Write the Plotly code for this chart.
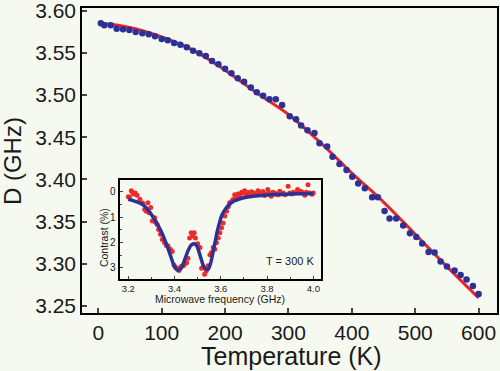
import plotly.graph_objects as go

# ---- main data: zero-field splitting D vs temperature ----
temp_K = [4, 9.5, 19.6, 29, 39, 49, 59, 69.5, 79.6, 89.5, 100, 109.6, 119.5, 129.5,
          139.6, 149.5, 159.5, 169.6, 179.5, 189.5, 200, 210, 220, 230, 240.6, 250,
          260, 270, 280, 290, 302, 312, 320, 330, 341, 349, 361, 369.5, 380.5, 391.6,
          400.6, 410, 420.5, 432, 441, 451.6, 459.5, 470, 481, 491.7, 501.7, 511, 521,
          530.5, 540, 550, 562, 571.6, 581, 591, 600]
D_GHz = [3.5851, 3.5827, 3.5827, 3.5787, 3.5779, 3.5771, 3.5748, 3.5732, 3.5720, 3.5697,
         3.5665, 3.5649, 3.5617, 3.5597, 3.5566, 3.5526, 3.5495, 3.5463, 3.5404, 3.5365,
         3.5313, 3.5258, 3.5199, 3.5159, 3.5090, 3.5033, 3.4993, 3.4950, 3.4950, 3.4883,
         3.4749, 3.4713, 3.4638, 3.4583, 3.4551, 3.4429, 3.4389, 3.4270, 3.4184, 3.4113,
         3.4033, 3.3953, 3.3896, 3.3789, 3.3789, 3.3627, 3.3536, 3.3536, 3.3453, 3.3363,
         3.3319, 3.3240, 3.3141, 3.3133, 3.3026, 3.2967, 3.2920, 3.2868, 3.2813, 3.2738,
         3.2643]

fit_T = [6, 50, 100, 150, 200, 250, 300, 350, 400, 450, 500, 550, 600]
fit_D = [3.5850, 3.5800, 3.5688, 3.5530, 3.5295, 3.5025, 3.4770, 3.4440, 3.4075,
         3.3732, 3.3350, 3.2967, 3.2596]

# ---- inset data: ODMR spectrum at 300 K ----
mw_freq = [3.200, 3.205, 3.213, 3.218, 3.222, 3.230, 3.238, 3.250, 3.262, 3.271, 3.278,
           3.285, 3.290, 3.297, 3.304, 3.314, 3.318, 3.325, 3.331, 3.339, 3.347, 3.357,
           3.365, 3.372, 3.382, 3.390, 3.398, 3.405, 3.412, 3.419, 3.425, 3.431, 3.438,
           3.444, 3.452, 3.458, 3.465, 3.472, 3.479, 3.485, 3.490, 3.500, 3.510, 3.517,
           3.523, 3.530, 3.537, 3.545, 3.553, 3.560, 3.567, 3.574, 3.581, 3.589, 3.596,
           3.603, 3.610, 3.617, 3.625, 3.632, 3.638, 3.645, 3.653, 3.660, 3.667, 3.674,
           3.682, 3.690, 3.696, 3.703, 3.710, 3.718, 3.725, 3.733, 3.744, 3.752, 3.761,
           3.767, 3.775, 3.781, 3.789, 3.795, 3.803, 3.810, 3.818, 3.825, 3.833, 3.840,
           3.847, 3.855, 3.862, 3.870, 3.878, 3.891, 3.898, 3.906, 3.913, 3.920, 3.932,
           3.942, 3.949, 3.956, 3.963, 3.970, 3.977, 3.984, 3.995, 4.000]
contrast = [0.20, 0.22, -0.04, 0.02, 0.09, 0.05, 0.14, 0.30, 0.45, 0.70, 0.77,
            0.44, 0.83, 0.62, 1.16, 1.03, 1.20, 1.29, 1.49, 1.68, 1.88, 2.01,
            2.12, 2.14, 2.27, 2.36, 2.90, 2.99, 3.05, 3.10, 3.00, 2.93, 2.92,
            2.85, 2.80, 2.62, 1.82, 1.62, 1.75, 1.62, 1.82, 2.05, 2.20, 3.02,
            2.99, 3.25, 3.12, 2.92, 2.48, 2.40, 2.20, 2.27, 2.01, 1.82, 1.62,
            1.42, 1.23, 0.96, 0.77, 0.59, 0.44, 0.40, 0.31, 0.12, 0.22, 0.09,
            0.15, 0.02, 0.05, -0.04, 0.10, 0.03, 0.09, 0.00, 0.05, 0.12, -0.04,
            0.09, 0.05, -0.01, 0.15, 0.09, -0.08, 0.05, 0.18, 0.02, 0.05, 0.10,
            0.12, -0.02, 0.09, 0.05, 0.12, -0.21, 0.05, 0.09, 0.02, 0.05, -0.08,
            -0.02, 0.00, 0.05, 0.14, 0.02, -0.27, 0.05, 0.10, 0.05]

odmr_fit_f = [3.200, 3.230, 3.260, 3.280, 3.300, 3.320, 3.340, 3.360, 3.380, 3.395,
              3.405, 3.415, 3.425, 3.435, 3.445, 3.455, 3.465, 3.475, 3.485, 3.495,
              3.505, 3.515, 3.525, 3.535, 3.545, 3.555, 3.565, 3.575, 3.585, 3.595,
              3.605, 3.620, 3.640, 3.660, 3.680, 3.710, 3.750, 3.800, 3.850, 3.900,
              3.950, 4.000]
odmr_fit_c = [0.30, 0.38, 0.50, 0.66, 0.90, 1.20, 1.52, 1.95, 2.45, 2.85,
              3.02, 3.10, 3.05, 2.90, 2.65, 2.40, 2.20, 2.08, 2.05, 2.12,
              2.35, 2.65, 2.92, 3.05, 3.06, 2.85, 2.45, 2.00, 1.55, 1.20,
              0.92, 0.68, 0.48, 0.36, 0.29, 0.22, 0.17, 0.13, 0.11, 0.09,
              0.08, 0.07]

main_ticks = [3.25, 3.30, 3.35, 3.40, 3.45, 3.50, 3.55, 3.60]
main_xticks = [0, 100, 200, 300, 400, 500, 600]
inset_xticks = [3.2, 3.4, 3.6, 3.8, 4.0]
inset_yticks = [0, 1, 2, 3]

BG = "#f6f9f0"
FONT = "Liberation Sans, Arial, sans-serif"

fig = go.Figure()
fig.add_trace(go.Scatter(x=fit_T, y=fit_D, mode="lines", line=dict(color="#e8262a", width=3, shape="spline"),
                         xaxis="x", yaxis="y", showlegend=False))
fig.add_trace(go.Scatter(x=temp_K, y=D_GHz, mode="markers", marker=dict(color="#2d3196", size=6.5),
                         xaxis="x", yaxis="y", showlegend=False))
fig.add_trace(go.Scatter(x=mw_freq, y=contrast, mode="markers", marker=dict(color="#ee2b2b", size=5),
                         xaxis="x2", yaxis="y2", showlegend=False))
fig.add_trace(go.Scatter(x=odmr_fit_f, y=odmr_fit_c, mode="lines",
                         line=dict(color="#2e3192", width=3.5, shape="spline"),
                         xaxis="x2", yaxis="y2", showlegend=False))

axis_common = dict(showline=True, mirror=True, linecolor="black", showgrid=False, zeroline=False,
                   automargin=False, ticklabeloverflow="allow")

fig.update_layout(
    width=500, height=371,
    autosize=False,
    margin=dict(l=82, r=3, t=8, b=58, autoexpand=False),
    paper_bgcolor=BG, plot_bgcolor=BG,
    font=dict(family=FONT, color="#1a1a1a"),
    xaxis=dict(**axis_common, domain=[0, 1], range=[-25.7, 629], tickvals=main_xticks,
               ticks="inside", ticklen=5, tickwidth=1.5, linewidth=1.5,
               tickfont=dict(size=21, family=FONT, color="#1a1a1a"), anchor="y"),
    yaxis=dict(**axis_common, domain=[0, 1], range=[3.2417, 3.6032], tickvals=main_ticks,
               tickformat=".2f", ticks="inside", ticklen=5, tickwidth=1.5, linewidth=1.5,
               tickfont=dict(size=21, family=FONT, color="#1a1a1a"), anchor="x"),
    xaxis2=dict(**axis_common, domain=[0.0908, 0.5752], range=[3.1628, 4.032], anchor="y2",
                tickvals=inset_xticks, tickformat=".1f", ticks="inside", ticklen=3, tickwidth=1,
                linewidth=2, tickfont=dict(size=9.5, family=FONT, color="#1a1a1a"),
                minor=dict(dtick=0.1, tick0=3.2, ticks="inside", ticklen=2, tickwidth=1)),
    yaxis2=dict(**axis_common, domain=[0.1131, 0.437], range=[3.42, -0.47], anchor="x2",
                tickvals=inset_yticks, ticks="inside", ticklen=3, tickwidth=1, linewidth=2,
                tickfont=dict(size=10, family=FONT, color="#1a1a1a"),
                minor=dict(dtick=0.5, tick0=0, ticks="inside", ticklen=2, tickwidth=1)),
    annotations=[
        dict(text="Temperature (K)", x=0.506, y=-0.141, xref="paper", yref="paper",
             showarrow=False, font=dict(size=25, family=FONT, color="#1a1a1a"),
             xanchor="center", yanchor="middle"),
        dict(text="D (GHz)", x=-0.1687, y=0.498, xref="paper", yref="paper", textangle=-90,
             showarrow=False, font=dict(size=24, family=FONT, color="#1a1a1a"),
             xanchor="center", yanchor="middle"),
        dict(text="Microwave frequency (GHz)", x=0.3318, y=0.047, xref="paper", yref="paper",
             showarrow=False, font=dict(size=10.5, family=FONT, color="#1a1a1a"),
             xanchor="center", yanchor="middle"),
        dict(text="Contrast (%)", x=0.052, y=0.2475, xref="paper", yref="paper", textangle=-90,
             showarrow=False, font=dict(size=10.5, family=FONT, color="#1a1a1a"),
             xanchor="center", yanchor="middle"),
        dict(text="T = 300 K", x=0.5024, y=0.1705, xref="paper", yref="paper",
             showarrow=False, font=dict(size=11, family=FONT, color="#1a1a1a"),
             xanchor="center", yanchor="middle"),
    ],
)

fig.write_html("out.html", config={"displayModeBar": False},
               post_script="document.body.style.margin='0';document.body.style.background='%s';" % BG)
